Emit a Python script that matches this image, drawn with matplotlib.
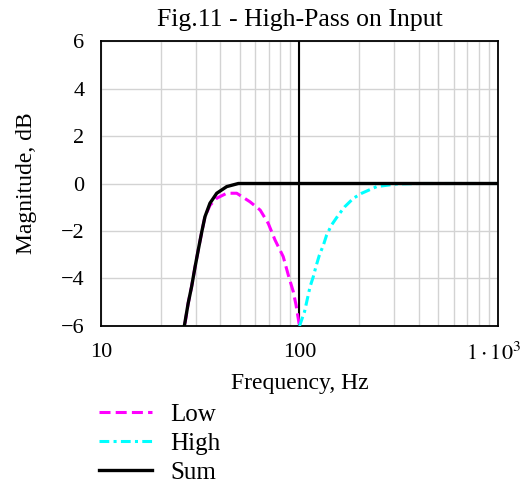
import matplotlib
matplotlib.use("Agg")
import matplotlib.pyplot as plt
import matplotlib.transforms as mtransforms
from matplotlib.ticker import FixedLocator, NullFormatter
from matplotlib.lines import Line2D

plt.rcParams["font.family"] = ["Liberation Serif", "DejaVu Serif"]
plt.rcParams["mathtext.fontset"] = "stix"

# valores (Hz, dB)
low_f = [26.5, 27.5, 28.6, 29.8, 30.9, 32.2, 33.4, 35.4, 38.3, 43.0, 48.3, 56.3,
         63.4, 69.6, 75.3, 82.8, 87.8, 93.0, 96.0, 100.0]
low_db = [-5.89, -5.04, -4.35, -3.5, -2.8, -2.03, -1.4, -0.92, -0.62, -0.41, -0.41, -0.77,
          -1.12, -1.68, -2.38, -3.08, -3.85, -4.55, -5.1, -6.0]

high_f = [100.0, 106.0, 113.0, 117.4, 121.0, 126.0, 132.0, 137.0, 145.0, 157.0,
          169.0, 187.0, 206.0, 245.0, 309.0, 400.0, 1000.0]
high_db = [-6.0, -5.4, -4.35, -3.92, -3.5, -3.01, -2.59, -2.17, -1.75, -1.33,
           -0.98, -0.62, -0.41, -0.13, -0.02, 0.0, 0.0]

sum_f = [26.3, 27.5, 28.6, 29.8, 30.9, 32.2, 33.4, 35.4, 38.3, 43.0, 49.2, 1000.0]
sum_db = [-6.0, -5.04, -4.35, -3.5, -2.8, -2.03, -1.4, -0.83, -0.41, -0.13, 0.0, 0.0]

x_ticks = [10, 100, 1000]
x_labels = ["10", "100", r"$1\cdot10^{3}$"]
y_ticks = [-6, -4, -2, 0, 2, 4, 6]
y_labels = ["\u22126", "\u22124", "\u22122", "0", "2", "4", "6"]

low_dash = (3.6, 1.7)
high_dash = (3.2, 1.4, 1.0, 1.4)

fig = plt.figure(figsize=(5.24, 4.87), dpi=100)
ax = fig.add_axes([0.1927, 0.3306, 0.7577, 0.5852])

ax.set_xscale("log")
ax.set_xlim(10, 1000)
ax.set_ylim(-6, 6)

# grade
minors = [m * d for d in (10, 100) for m in range(2, 10)]
ax.xaxis.set_minor_locator(FixedLocator(minors))
ax.xaxis.set_minor_formatter(NullFormatter())
ax.set_xticks(x_ticks)
ax.set_xticklabels(x_labels)
ax.set_yticks(y_ticks)
ax.set_yticklabels(y_labels)
ax.grid(True, which="both", axis="x", color="#d3d3d3", lw=1.0)
ax.grid(True, which="major", axis="y", color="#d3d3d3", lw=1.0)
ax.set_axisbelow(True)
ax.tick_params(which="both", length=0, labelsize=16)
ax.tick_params(axis="y", pad=12)
ax.tick_params(axis="x", pad=12)

# o rotulo 1·10^3 encosta na borda, puxa um pouco para a esquerda
shift = mtransforms.ScaledTranslation(-4 / 100, 0, fig.dpi_scale_trans)
lbl = ax.get_xticklabels()[-1]
lbl.set_transform(lbl.get_transform() + shift)

for s in ax.spines.values():
    s.set_linewidth(1.3)
    s.set_color("black")

ax.axvline(100, color="black", lw=1.5)

ax.plot(low_f, low_db, color="#ff00ff", lw=2.2, dashes=low_dash, zorder=3)
ax.plot(high_f, high_db, color="#00ffff", lw=2.2, dashes=high_dash, zorder=3)
ax.plot(sum_f, sum_db, color="black", lw=2.4, zorder=4)

ax.set_title("Fig.11 - High-Pass on Input", fontsize=18.5, pad=11)
ax.set_xlabel("Frequency, Hz", fontsize=17, labelpad=6)
ax.set_ylabel("Magnitude, dB", fontsize=17, labelpad=17)

handles = [
    Line2D([], [], color="#ff00ff", lw=2.2, dashes=low_dash),
    Line2D([], [], color="#00ffff", lw=2.2, dashes=high_dash),
    Line2D([], [], color="black", lw=2.4),
]
fig.legend(handles, ["Low", "High", "Sum"], loc="upper left",
           bbox_to_anchor=(0.189, 0.172), frameon=False, fontsize=18,
           handlelength=2.1, handletextpad=0.75, labelspacing=0.27,
           borderpad=0, borderaxespad=0)

fig.savefig("out.png", dpi=100)
